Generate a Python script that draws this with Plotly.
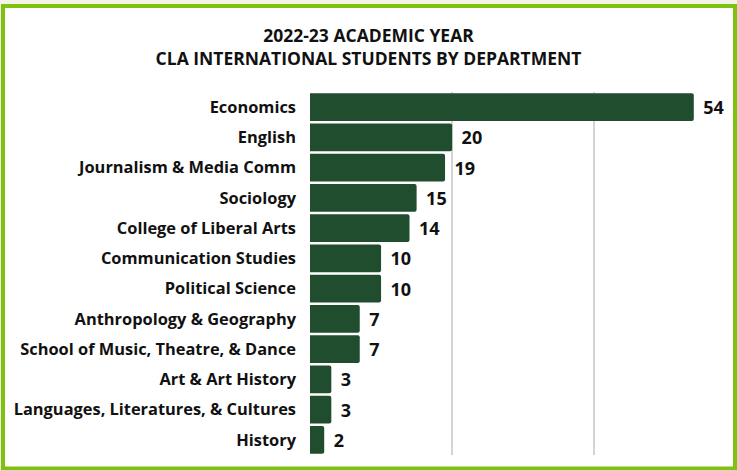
import plotly.graph_objects as go

categories = [
    "Economics", "English", "Journalism & Media Comm", "Sociology",
    "College of Liberal Arts", "Communication Studies", "Political Science",
    "Anthropology & Geography", "School of Music, Theatre, & Dance",
    "Art & Art History", "Languages, Literatures, & Cultures", "History",
]
students = [54, 20, 19, 15, 14, 10, 10, 7, 7, 3, 3, 2]
x_ticks = [0, 20, 40]

W, H = 737, 470
ML, MR, MT, MB = 310, 29, 92, 14.5
pw = W - ML - MR
ph = H - MT - MB

def px(x):
    return (x - ML) / pw

def py(y):
    return (H - MB - y) / ph

FONT = "Open Sans"
BAR = "#204d2e"
BORDER = "#7dc20e"

fig = go.Figure(go.Bar(
    x=students,
    y=categories,
    orientation="h",
    marker=dict(color=BAR, line=dict(width=0), cornerradius=2),
    text=students,
    texttemplate="\u00a0\u200a%{text}",
    textposition="outside",
    textfont=dict(family=FONT, size=18, color="#111111", weight="bold"),
    cliponaxis=False,
))

fig.update_layout(
    width=W, height=H,
    margin=dict(l=ML, r=MR, t=MT, b=MB, pad=0),
    paper_bgcolor="#f3f3ea",
    plot_bgcolor="rgba(0,0,0,0)",
    bargap=0.08,
    showlegend=False,
    title=dict(
        text="2022-23 ACADEMIC YEAR<br>CLA INTERNATIONAL STUDENTS BY DEPARTMENT",
        x=0.5, xanchor="center", y=1 - 42 / H, yanchor="middle",
        font=dict(family=FONT, size=17.5, color="#111111", weight="bold"),
    ),
    xaxis=dict(
        range=[0, 56], tickvals=x_ticks, showticklabels=False,
        showgrid=True, gridcolor="#d4d4d4", gridwidth=1.5,
        zeroline=False, showline=False, fixedrange=True, automargin=False,
    ),
    yaxis=dict(
        autorange="reversed", showgrid=False, zeroline=False, showline=False,
        ticks="", ticklabelstandoff=13, automargin=False, fixedrange=True,
        tickfont=dict(family=FONT, size=16.4, color="#111111", weight="bold"),
    ),
    shapes=[dict(
        type="rect", xref="paper", yref="paper",
        x0=px(3), x1=px(735), y0=py(6), y1=py(469),
        line=dict(color=BORDER, width=4), fillcolor="white", layer="below",
    )],
)

fig.write_html(
    "out.html",
    config={"displayModeBar": False},
    post_script="document.body.style.margin='0';document.body.style.overflow='hidden';",
)
